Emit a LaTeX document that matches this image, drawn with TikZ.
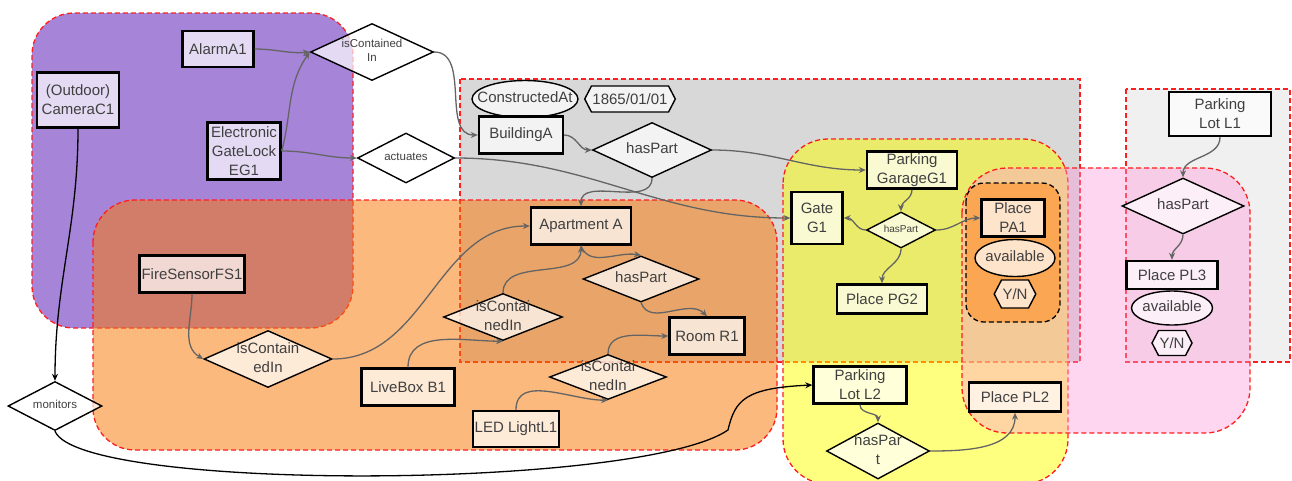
\documentclass[tikz,border=0pt]{standalone}
\usepackage{fontspec}
\setmainfont{Liberation Sans}
\usetikzlibrary{shapes.geometric,shapes.symbols,arrows.meta}

\definecolor{txt}{RGB}{64,64,64}
\definecolor{relc}{RGB}{100,100,100}
\definecolor{regred}{RGB}{255,30,30}
\definecolor{purp}{RGB}{166,132,216}
\definecolor{gry}{RGB}{216,216,216}
\definecolor{lgry}{RGB}{240,240,240}
\definecolor{orng}{RGB}{249,120,5}
\definecolor{yel}{RGB}{255,255,0}
\definecolor{pnk}{RGB}{255,152,217}
\definecolor{dorng}{RGB}{250,166,82}

\newcommand{\dlab}[1]{\raisebox{-.25em}[0pt][0pt]{\makebox[0pt]{\begin{tabular}{@{}c@{}}#1\end{tabular}}}}

\tikzset{
  region/.style={draw=regred, dash pattern=on 5pt off 3pt, line width=1.3pt},
  box/.style={draw, line width=2.4pt, fill=white, fill opacity=.7, text opacity=1, text=txt,
    font=\fontsize{15}{19}\selectfont, align=center, inner sep=2pt},
  dia/.style={diamond, draw, line width=1.4pt, fill=white, fill opacity=.7, text opacity=1, text=txt,
    font=\fontsize{15}{19}\selectfont, inner sep=0pt},
  ell/.style={ellipse, draw, line width=1.4pt, fill=white, fill opacity=.7, text opacity=1, text=txt,
    font=\fontsize{15}{19}\selectfont, inner sep=0pt},
  hexa/.style={signal, signal to=west and east, signal pointer angle=125, draw, line width=1.4pt,
    fill=white, fill opacity=.7, text opacity=1, text=txt, font=\fontsize{15}{19}\selectfont, inner sep=1pt},
  sz/.style 2 args={minimum width=#1, minimum height=#2},
  small/.style={font=\fontsize{11.5}{14}\selectfont},
  rel/.style={draw=relc, line width=1.3pt, -{Stealth[length=7pt, width=6pt]}},
  relk/.style={draw=black, line width=1.3pt, -{Stealth[length=7pt, width=6pt]}}
}

\begin{document}
\begin{tikzpicture}[x=1pt, y=-1pt]
\useasboundingbox (0,0) rectangle (1292,480);

\draw[region, fill=purp, rounded corners=42] (32,13) rectangle (353,328);
\draw[region, fill=gry] (460,79) rectangle (1080,362);
\draw[region, fill=lgry] (1126,89) rectangle (1290,362);
\draw[region, fill=orng, fill opacity=.52, rounded corners=42] (93,200) rectangle (777,450);
\draw[region, fill=yel, fill opacity=.5, rounded corners=45] (783,139) rectangle (1068,484);
\draw[region, fill=pnk, fill opacity=.4, rounded corners=45] (962,168) rectangle (1250,433);
\draw[region, draw=black, fill=dorng, rounded corners=18] (966,183) rectangle (1060,322);

\node[box, sz={71}{36}] (alarm) at (218,49) {AlarmA1};
\node[box, sz={82}{55}] (cam) at (78,100) {(Outdoor)\\CameraC1};
\node[box, sz={73}{57}] (eg) at (244,151) {Electronic\\GateLock\\EG1};
\node[dia, small, sz={123}{57}] (iscont) at (372,52) {\dlab{isContained\\In}};
\node[dia, small, sz={97}{50}] (act) at (406,158) {\dlab{actuates}};

\node[ell, sz={106}{37}] (constr) at (525,99) {\dlab{ConstructedAt}};
\node[hexa, minimum height=26] (date) at (630,99) {1865/01/01};
\node[box, sz={84}{37}] (bldg) at (521,135) {BuildingA};
\node[dia, sz={119}{55}] (hpb) at (652,150) {\dlab{hasPart}};
\node[box, sz={100}{37}] (apt) at (581,226) {Apartment A};
\node[dia, sz={116}{46}] (hpa) at (641,279) {\dlab{hasPart}};
\node[box, sz={75}{37}] (room) at (707,336) {Room R1};
\node[dia, sz={119}{47}] (icl) at (503,317) {\dlab{isContai\\nedIn}};
\node[dia, sz={117}{45}] (icd) at (608,377) {\dlab{isContai\\nedIn}};
\node[box, sz={93}{37}] (live) at (408,387) {LiveBox B1};
\node[box, sz={86}{36}] (led) at (516,429) {LED LightL1};
\node[box, sz={104}{37}] (fire) at (192,274) {FireSensorFS1};
\node[dia, sz={128}{57}] (icf) at (268,359) {\dlab{isContain\\edIn}};
\node[dia, small, sz={94}{49}] (mon) at (55,406) {\dlab{monitors}};

\node[box, sz={90}{37}] (garage) at (912,170) {Parking\\GarageG1};
\node[box, sz={51}{52}] (gate) at (817,218) {Gate\\G1};
\node[dia, font=\fontsize{10}{12}\selectfont, sz={69}{36}] (hpg) at (901,230) {\dlab{hasPart}};
\node[box, sz={90}{29}] (pg2) at (882,299) {Place PG2};
\node[box, sz={63}{37}] (pa1) at (1013,218) {Place\\PA1};
\node[ell, sz={80}{37}] (ava1) at (1015,258) {\dlab{available}};
\node[hexa, minimum height=28] (yn1) at (1015,294) {Y/N};
\node[box, sz={93}{37}] (lot2) at (860,385) {Parking\\Lot L2};
\node[dia, sz={103}{56}] (hpt) at (878,451) {\dlab{hasPar\\t}};
\node[box, sz={92}{29}] (pl2) at (1015,397) {Place PL2};

\node[box, sz={102}{44}] (lot1) at (1220,114) {Parking\\Lot L1};
\node[dia, sz={122}{56}] (hpl) at (1183,206) {\dlab{hasPart}};
\node[box, sz={91}{28}] (pl3) at (1172,275) {Place PL3};
\node[ell, sz={81}{34}] (ava3) at (1172,308) {\dlab{available}};
\node[hexa, minimum height=25] (yn3) at (1172,343) {Y/N};

\coordinate (mbend) at (728,430);

\draw[rel] (alarm.east) to[out=0,in=185] (iscont.west);
\draw[rel] (eg.east) to[out=75,in=235] (iscont.west);
\draw[rel] (eg.east) to[out=0,in=180] (act.west);
\draw[rel] (iscont.east) to[out=0,in=180] (bldg.west);
\draw[rel] (act.east) to[out=0,in=180] (gate.west);
\draw[rel] (bldg.east) to[out=0,in=180] (hpb.west);
\draw[rel] (hpb.east) to[out=0,in=180] (garage.west);
\draw[rel] (hpb.south) to[out=-90,in=90] (apt.north);
\draw[rel] (apt.south) to[out=-70,in=170] (hpa.north);
\draw[rel] (hpa.south) to[out=-70,in=135] (room.north);
\draw[rel] (fire.south) to[out=-90,in=150] (icf.west);
\draw[rel] (icf.east) to[out=0,in=180] (apt.west);
\draw[rel] (live.north) to[out=90,in=180] (icl.south);
\draw[rel] (icl.north) to[out=90,in=-90] (apt.south);
\draw[rel] (led.north) to[out=90,in=180] (icd.south);
\draw[rel] (icd.north) to[out=90,in=180] (room.west);
\draw[relk] (cam.south) to[out=-90,in=90] (mon.north);
\draw[relk] (mon.south) .. controls (80,492) and (640,490) .. (mbend) .. controls (735,400) and (745,388) .. (lot2.west);
\draw[rel] (garage.south) to[out=-90,in=90] (hpg.north);
\draw[rel] (hpg.west) to[out=180,in=0] (gate.east);
\draw[rel] (hpg.east) to[out=0,in=180] (pa1.west);
\draw[rel] (hpg.south) to[out=-90,in=90] (pg2.north);
\draw[rel] (lot2.south) to[out=-90,in=90] (hpt.north);
\draw[rel] (hpt.east) to[out=0,in=-90] (pl2.south);
\draw[rel] (lot1.south) to[out=-90,in=90] (hpl.north);
\draw[rel] (hpl.south) to[out=-90,in=90] (pl3.north);
\end{tikzpicture}
\end{document}
